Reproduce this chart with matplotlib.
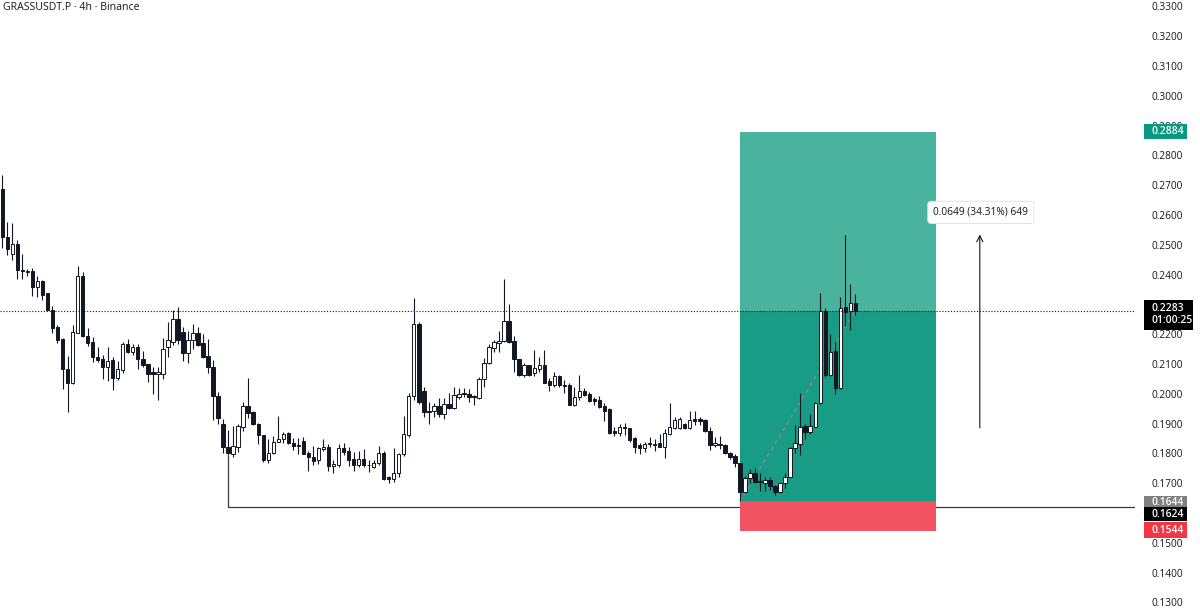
import matplotlib
matplotlib.use('Agg')
import matplotlib.pyplot as plt
from matplotlib.patches import Rectangle

plt.rcParams['font.family'] = ['Open Sans', 'DejaVu Sans']

symbol_title = "GRASSUSDT.P · 4h · Binance"

opens = [0.2691, 0.2532, 0.2474, 0.2507, 0.2420, 0.2418, 0.2418, 0.2363, 0.2385, 0.2342,
         0.2286, 0.2230, 0.2188, 0.2087, 0.2040, 0.2211, 0.2400, 0.2199, 0.2180, 0.2130,
         0.2123, 0.2094, 0.2118, 0.2060, 0.2085, 0.2172, 0.2146, 0.2163, 0.2123, 0.2104,
         0.2077, 0.2073, 0.2073, 0.2161, 0.2180, 0.2255, 0.2213, 0.2141, 0.2185, 0.2208,
         0.2177, 0.2132, 0.2094, 0.1998, 0.1904, 0.1826, 0.1805, 0.1828, 0.1895, 0.1964,
         0.1943, 0.1904, 0.1867, 0.1783, 0.1806, 0.1845, 0.1852, 0.1875, 0.1841, 0.1832,
         0.1848, 0.1808, 0.1794, 0.1783, 0.1819, 0.1828, 0.1763, 0.1765, 0.1822, 0.1814,
         0.1785, 0.1765, 0.1788, 0.1768, 0.1761, 0.1772, 0.1808, 0.1725, 0.1718, 0.1741,
         0.1803, 0.1867, 0.1998, 0.2240, 0.2016, 0.1949, 0.1949, 0.1965, 0.1938, 0.1971,
         0.1957, 0.1996, 0.2007, 0.2005, 0.1998, 0.1990, 0.2054, 0.2108, 0.2158, 0.2177,
         0.2184, 0.2251, 0.2184, 0.2121, 0.2068, 0.2102, 0.2074, 0.2088, 0.2102, 0.2049,
         0.2035, 0.2065, 0.2035, 0.2035, 0.1968, 0.1994, 0.2016, 0.2005, 0.1987, 0.1985,
         0.1964, 0.1953, 0.1879, 0.1873, 0.1895, 0.1890, 0.1856, 0.1834, 0.1822, 0.1839,
         0.1837, 0.1839, 0.1828, 0.1871, 0.1890, 0.1890, 0.1904, 0.1890, 0.1920, 0.1920,
         0.1917, 0.1882, 0.1834, 0.1837, 0.1833, 0.1808, 0.1797, 0.1772, 0.1677, 0.1722,
         0.1738, 0.1713, 0.1707, 0.1716, 0.1696, 0.1677, 0.1705, 0.1727, 0.1822, 0.1837,
         0.1897, 0.1878, 0.1895, 0.1973, 0.2284, 0.2068, 0.2150, 0.2024, 0.2295, 0.2284,
         0.2311]
highs = [0.2739, 0.2583, 0.2577, 0.2521, 0.2474, 0.2424, 0.2426, 0.2402, 0.2387, 0.2344,
         0.2301, 0.2237, 0.2191, 0.2132, 0.2235, 0.2434, 0.2415, 0.2225, 0.2197, 0.2163,
         0.2135, 0.2163, 0.2130, 0.2115, 0.2180, 0.2189, 0.2171, 0.2172, 0.2150, 0.2105,
         0.2094, 0.2094, 0.2194, 0.2245, 0.2288, 0.2297, 0.2230, 0.2217, 0.2241, 0.2230,
         0.2206, 0.2190, 0.2118, 0.2011, 0.1920, 0.1884, 0.1898, 0.1904, 0.1979, 0.2057,
         0.1946, 0.1906, 0.1868, 0.1852, 0.1864, 0.1931, 0.1878, 0.1878, 0.1856, 0.1856,
         0.1859, 0.1815, 0.1830, 0.1828, 0.1853, 0.1837, 0.1783, 0.1837, 0.1841, 0.1826,
         0.1810, 0.1815, 0.1819, 0.1783, 0.1783, 0.1830, 0.1815, 0.1729, 0.1822, 0.1808,
         0.1931, 0.2009, 0.2326, 0.2247, 0.2029, 0.1979, 0.1974, 0.1990, 0.1990, 0.2009,
         0.2027, 0.2024, 0.2024, 0.2020, 0.2001, 0.2061, 0.2124, 0.2172, 0.2186, 0.2217,
         0.2389, 0.2307, 0.2199, 0.2121, 0.2108, 0.2102, 0.2152, 0.2128, 0.2152, 0.2057,
         0.2080, 0.2068, 0.2052, 0.2041, 0.2027, 0.2068, 0.2024, 0.2013, 0.1996, 0.1998,
         0.1976, 0.1957, 0.1895, 0.1904, 0.1909, 0.1892, 0.1862, 0.1841, 0.1845, 0.1860,
         0.1853, 0.1870, 0.1886, 0.1976, 0.1926, 0.1929, 0.1909, 0.1949, 0.1946, 0.1926,
         0.1920, 0.1895, 0.1860, 0.1864, 0.1837, 0.1811, 0.1803, 0.1774, 0.1730, 0.1752,
         0.1755, 0.1741, 0.1727, 0.1727, 0.1699, 0.1709, 0.1739, 0.1826, 0.1901, 0.2007,
         0.1904, 0.1938, 0.1979, 0.2342, 0.2292, 0.2206, 0.2180, 0.2331, 0.2538, 0.2374,
         0.2340]
lows = [0.2493, 0.2471, 0.2456, 0.2391, 0.2392, 0.2402, 0.2334, 0.2329, 0.2320, 0.2284,
        0.2210, 0.2177, 0.2023, 0.1945, 0.2038, 0.2210, 0.2197, 0.2166, 0.2111, 0.2113,
        0.2055, 0.2049, 0.2018, 0.2051, 0.2076, 0.2143, 0.2135, 0.2090, 0.2096, 0.2046,
        0.2004, 0.1984, 0.2055, 0.2130, 0.2168, 0.2171, 0.2116, 0.2110, 0.2155, 0.2165,
        0.2126, 0.2074, 0.1917, 0.1905, 0.1806, 0.1800, 0.1794, 0.1811, 0.1882, 0.1923,
        0.1901, 0.1837, 0.1778, 0.1772, 0.1802, 0.1845, 0.1841, 0.1837, 0.1817, 0.1803,
        0.1803, 0.1747, 0.1766, 0.1770, 0.1815, 0.1747, 0.1741, 0.1761, 0.1800, 0.1764,
        0.1746, 0.1761, 0.1761, 0.1744, 0.1755, 0.1766, 0.1716, 0.1707, 0.1710, 0.1727,
        0.1797, 0.1859, 0.1985, 0.1970, 0.1929, 0.1904, 0.1929, 0.1929, 0.1920, 0.1953,
        0.1953, 0.1987, 0.1994, 0.1979, 0.1968, 0.1987, 0.2027, 0.2105, 0.2147, 0.2147,
        0.2180, 0.2177, 0.2080, 0.2065, 0.2063, 0.2065, 0.2065, 0.2080, 0.2041, 0.2016,
        0.2029, 0.2029, 0.2007, 0.1968, 0.1965, 0.1985, 0.1998, 0.1979, 0.1968, 0.1957,
        0.1915, 0.1870, 0.1864, 0.1864, 0.1867, 0.1845, 0.1808, 0.1803, 0.1811, 0.1828,
        0.1815, 0.1826, 0.1789, 0.1866, 0.1886, 0.1886, 0.1886, 0.1886, 0.1901, 0.1901,
        0.1878, 0.1817, 0.1828, 0.1819, 0.1803, 0.1786, 0.1759, 0.1644, 0.1674, 0.1705,
        0.1705, 0.1680, 0.1680, 0.1683, 0.1666, 0.1674, 0.1688, 0.1725, 0.1808, 0.1800,
        0.1853, 0.1870, 0.1893, 0.1971, 0.2063, 0.2065, 0.2005, 0.2020, 0.2233, 0.2218,
        0.2270]
closes = [0.2532, 0.2490, 0.2507, 0.2420, 0.2416, 0.2414, 0.2363, 0.2385, 0.2336, 0.2286,
          0.2225, 0.2185, 0.2087, 0.2042, 0.2213, 0.2400, 0.2199, 0.2177, 0.2130, 0.2118,
          0.2094, 0.2114, 0.2060, 0.2087, 0.2172, 0.2146, 0.2161, 0.2122, 0.2102, 0.2071,
          0.2072, 0.2077, 0.2157, 0.2186, 0.2255, 0.2185, 0.2141, 0.2185, 0.2208, 0.2169,
          0.2130, 0.2094, 0.1998, 0.1925, 0.1828, 0.1808, 0.1830, 0.1898, 0.1964, 0.1942,
          0.1904, 0.1867, 0.1783, 0.1806, 0.1845, 0.1853, 0.1870, 0.1839, 0.1830, 0.1830,
          0.1803, 0.1794, 0.1781, 0.1822, 0.1828, 0.1763, 0.1770, 0.1822, 0.1811, 0.1783,
          0.1765, 0.1785, 0.1765, 0.1765, 0.1774, 0.1806, 0.1718, 0.1718, 0.1741, 0.1803,
          0.1870, 0.1998, 0.2238, 0.1979, 0.1945, 0.1945, 0.1965, 0.1938, 0.1971, 0.1957,
          0.2001, 0.2005, 0.2003, 0.1994, 0.1994, 0.2054, 0.2110, 0.2161, 0.2180, 0.2184,
          0.2251, 0.2180, 0.2121, 0.2068, 0.2102, 0.2068, 0.2091, 0.2102, 0.2043, 0.2035,
          0.2065, 0.2035, 0.2031, 0.1968, 0.1994, 0.2016, 0.2001, 0.1982, 0.1982, 0.1960,
          0.1949, 0.1875, 0.1875, 0.1895, 0.1892, 0.1850, 0.1828, 0.1822, 0.1837, 0.1836,
          0.1833, 0.1828, 0.1873, 0.1893, 0.1917, 0.1920, 0.1890, 0.1917, 0.1915, 0.1915,
          0.1882, 0.1834, 0.1839, 0.1833, 0.1808, 0.1794, 0.1774, 0.1677, 0.1722, 0.1738,
          0.1711, 0.1708, 0.1716, 0.1696, 0.1677, 0.1705, 0.1727, 0.1822, 0.1839, 0.1895,
          0.1878, 0.1897, 0.1973, 0.2284, 0.2068, 0.2147, 0.2024, 0.2292, 0.2281, 0.2309,
          0.2283]

price_ticks = [0.13, 0.14, 0.15, 0.16, 0.17, 0.18, 0.19, 0.20, 0.21, 0.22, 0.23,
               0.24, 0.25, 0.26, 0.27, 0.28, 0.29, 0.30, 0.31, 0.32, 0.33]
tick_labels = ["0.1300", "0.1400", "0.1500", "0.1600", "0.1700", "0.1800", "0.1900",
               "0.2000", "0.2100", "0.2200", "0.2300", "0.2400", "0.2500", "0.2600",
               "0.2700", "0.2800", "0.2900", "0.3000", "0.3100", "0.3200", "0.3300"]

last_price = 0.2283
countdown = "01:00:25"
entry_price = 0.1644
target_price = 0.2884
stop_price = 0.1544
support_level = 0.1624
support_start_bar = 45
support_start_price = 0.1800
position_start_bar = 147
position_end_bar = 186.1
measure_bar = 194.8
measure_from = 0.1891
measure_to = 0.2540
measure_text = "0.0649 (34.31%) 649"

# ---------------- layout ----------------
W, H = 1200, 611
fig = plt.figure(figsize=(W / 100, H / 100), dpi=100)
fig.patch.set_facecolor('white')
pane_w = 1135
ax = fig.add_axes([0, 0, pane_w / W, 1])
ymin, ymax = 0.12765, 0.33268
bar_px = 5.018
first_px = 2.3
ax.set_xlim(-first_px / bar_px, (pane_w - first_px) / bar_px)
ax.set_ylim(ymin, ymax)
ax.axis('off')
pp = (ymax - ymin) / H  # price per pixel

dark = '#131722'
teal_hi = '#4ab39e'
teal_lo = '#199c85'
red = '#f25261'

# support line (vertical drop + horizontal)
xr = ax.get_xlim()[1]
ax.plot([support_start_bar, support_start_bar, xr], [support_start_price, support_level, support_level],
        color='#3a3a3a', lw=0.9, zorder=1, solid_capstyle='butt')

# position boxes
ax.add_patch(Rectangle((position_start_bar, last_price), position_end_bar - position_start_bar,
                       target_price - last_price, fc=teal_hi, ec='none', zorder=2))
ax.add_patch(Rectangle((position_start_bar, entry_price), position_end_bar - position_start_bar,
                       last_price - entry_price, fc=teal_lo, ec='none', zorder=2))
ax.add_patch(Rectangle((position_start_bar, stop_price), position_end_bar - position_start_bar,
                       entry_price - stop_price, fc=red, ec='none', zorder=2))

# dashed trade path
ax.plot([position_start_bar, len(closes) - 1], [entry_price, last_price], color='#8c8c8c',
        lw=0.9, ls=(0, (3, 3)), zorder=3)

# candles
n = len(opens)
xs = list(range(n))
ax.vlines(xs, lows, highs, color=dark, lw=0.8, zorder=4)
for i in range(n):
    o, c = opens[i], closes[i]
    up = c >= o
    bottom = min(o, c)
    h = max(abs(c - o), pp * 0.9)
    ax.add_patch(Rectangle((i - 0.34, bottom), 0.68, h,
                           fc='white' if up else dark, ec=dark, lw=0.7, zorder=5))

# last price dotted line
ax.axhline(last_price, color=dark, lw=0.8, ls=(0, (1, 1.6)), zorder=6)

# measure arrow
ax.annotate('', xy=(measure_bar, measure_to), xytext=(measure_bar, measure_from),
            arrowprops=dict(arrowstyle='->', color=dark, lw=0.8, mutation_scale=11,
                            shrinkA=0, shrinkB=0), zorder=6)
ax.text(measure_bar + 0.2, measure_to + 0.0074, measure_text,
        ha='center', va='center', fontsize=7.3, color=dark, zorder=7,
        bbox=dict(boxstyle='round,pad=0.55,rounding_size=0.35', fc='white', ec='#e2e3e6', lw=0.7))

# title
fig.text(3 / W, 1 - 7.5 / H, symbol_title, ha='left', va='center', fontsize=7.6, color=dark)

# ---------------- price scale ----------------
ax2 = fig.add_axes([pane_w / W, 0, (W - pane_w) / W, 1])
ax2.set_xlim(0, W - pane_w)
ax2.set_ylim(ymin, ymax)
ax2.axis('off')
for t, lab in zip(price_ticks, tick_labels):
    ax2.text(16, t, lab, ha='left', va='center', fontsize=7.3, color=dark, zorder=1)


def tag(center, height_px, color, lines, x0=9, x1=52, fs=7.4):
    ax2.add_patch(Rectangle((x0, center - height_px * pp / 2), x1 - x0, height_px * pp,
                            fc=color, ec='none', zorder=3))
    if len(lines) == 1:
        ax2.text(16, center, lines[0], ha='left', va='center', fontsize=fs,
                 color='white', zorder=4, fontweight='semibold')
    else:
        ax2.text(16, center + 6 * pp, lines[0], ha='left', va='center', fontsize=fs,
                 color='white', zorder=4, fontweight='semibold')
        ax2.text(16, center - 6 * pp, lines[1], ha='left', va='center', fontsize=fs,
                 color='white', zorder=4, fontweight='semibold')


tag(target_price, 15, '#089981', ["%.4f" % target_price])
tag(last_price - 3.5 * pp, 30, 'black', ["%.4f" % last_price, countdown], x1=58)
tag(entry_price - 1 * pp, 13.5, '#808080', ["%.4f" % entry_price])
tag(support_level - 7 * pp, 14, 'black', ["%.4f" % support_level])
tag(stop_price + 1 * pp, 16, '#f23645', ["%.4f" % stop_price])

fig.savefig('out.png', dpi=100, facecolor='white')
